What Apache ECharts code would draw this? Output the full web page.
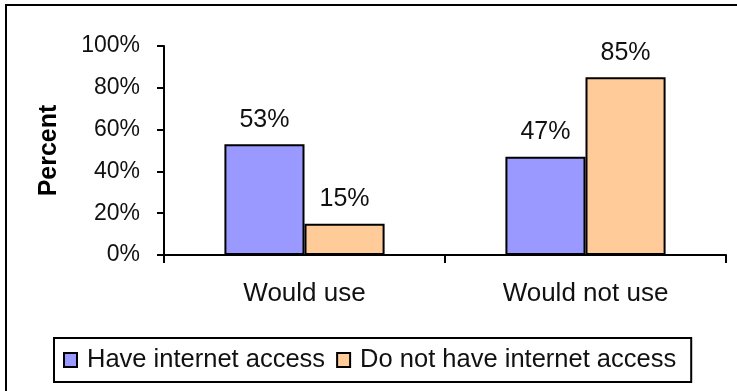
<!DOCTYPE html>
<html>
<head>
<meta charset="utf-8">
<script src="https://cdn.jsdelivr.net/npm/echarts@6/dist/echarts.min.js"></script>
<style>
  html, body { margin: 0; padding: 0; background: #ffffff; }
  #chart { width: 737px; height: 391px; }
</style>
</head>
<body>
<div id="chart"></div>
<script>
// Survey answers, split by whether the respondent has internet access
const categories = ['Would use', 'Would not use'];
const seriesNames = ['Have internet access', 'Do not have internet access'];
const haveAccess = [53, 47];
const noAccess = [15, 85];
const yTicks = [0, 20, 40, 60, 80, 100];

const FONT = '"Liberation Sans", Arial, sans-serif';

const chart = echarts.init(document.getElementById('chart'), null, { renderer: 'canvas' });

function barSeries(name, data, color) {
  return {
    name: name,
    type: 'bar',
    data: data,
    barGap: '0%',
    barCategoryGap: '43%',
    itemStyle: { color: color, borderColor: '#000000', borderWidth: 2 },
    label: {
      show: true,
      position: 'top',
      distance: 12,
      formatter: '{c}%',
      color: '#111111',
      fontFamily: FONT,
      fontSize: 25
    }
  };
}

chart.setOption({
  animation: false,
  backgroundColor: '#ffffff',
  textStyle: { fontFamily: FONT },
  // outer frame of the chart area
  graphic: [{
    type: 'rect',
    shape: { x: 6, y: 5, width: 900, height: 600 },
    style: { fill: 'none', stroke: '#000000', lineWidth: 2 },
    silent: true
  }],
  grid: { left: 164, top: 46, width: 562, height: 209, containLabel: false },
  legend: {
    left: 54,
    top: 338,
    orient: 'horizontal',
    icon: 'rect',
    padding: [9, 15, 9, 9],
    itemWidth: 13,
    itemHeight: 14,
    itemGap: 11,
    borderColor: '#000000',
    borderWidth: 2,
    textStyle: { color: '#111111', fontFamily: FONT, fontSize: 25.5, padding: [0, 0, 0, 5] },
    data: seriesNames
  },
  xAxis: {
    type: 'category',
    data: categories,
    axisLine: { lineStyle: { color: '#000000', width: 2 } },
    axisTick: { show: true, length: 8, lineStyle: { color: '#000000', width: 2 } },
    axisLabel: { color: '#111111', fontFamily: FONT, fontSize: 26, margin: 26 }
  },
  yAxis: {
    type: 'value',
    min: yTicks[0],
    max: yTicks[yTicks.length - 1],
    interval: 20,
    name: 'Percent',
    nameLocation: 'middle',
    nameGap: 102,
    nameRotate: 90,
    nameTextStyle: { color: '#000000', fontFamily: FONT, fontSize: 25, fontWeight: 'bold' },
    axisLine: { show: true, lineStyle: { color: '#000000', width: 2 } },
    axisTick: { show: true, length: 7, lineStyle: { color: '#000000', width: 2 } },
    splitLine: { show: false },
    axisLabel: { color: '#111111', fontFamily: FONT, fontSize: 23, margin: 24, formatter: '{value}%' }
  },
  series: [
    barSeries(seriesNames[0], haveAccess, '#9999FF'),
    barSeries(seriesNames[1], noAccess, '#FFCC99')
  ]
});
</script>
</body>
</html>
